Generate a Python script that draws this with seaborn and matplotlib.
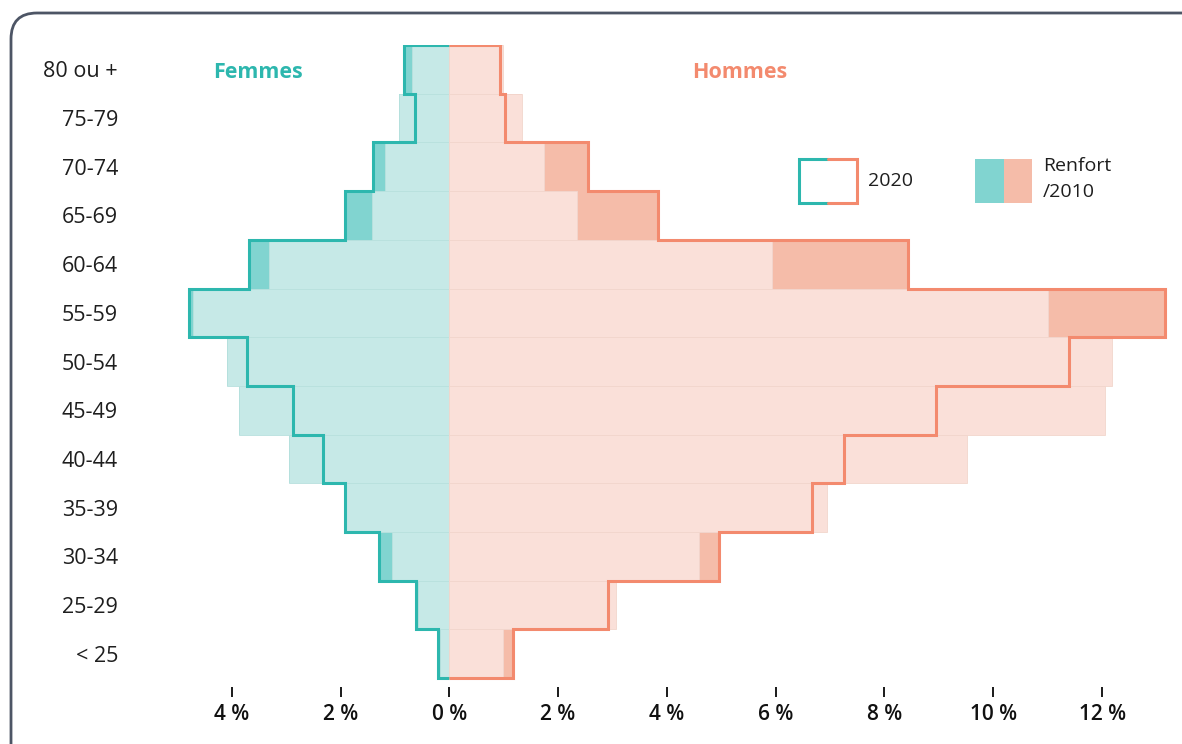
import numpy as np
import matplotlib
matplotlib.use('Agg')
import matplotlib.pyplot as plt
from matplotlib.patches import FancyBboxPatch, Rectangle
from matplotlib.ticker import FuncFormatter
import seaborn as sns

sns.set_style('white')
plt.rcParams['font.family'] = ['Open Sans', 'DejaVu Sans']

# ─── Data (% of total staff) ─────────────────────────────────────────────────
ages = ['80 ou +', '75-79', '70-74', '65-69', '60-64', '55-59', '50-54',
        '45-49', '40-44', '35-39', '30-34', '25-29', '< 25']
femmes_2010 = [0.69, 0.92, 1.18, 1.43, 3.31, 4.71, 4.08, 3.86, 2.94, 1.92, 1.06, 0.57, 0.17]
femmes_2020 = [0.83, 0.63, 1.41, 1.92, 3.69, 4.78, 3.71, 2.88, 2.32, 1.92, 1.29, 0.62, 0.20]
hommes_2010 = [0.99, 1.33, 1.74, 2.35, 5.93, 11.01, 12.19, 12.05, 9.51, 6.94, 4.59, 3.07, 0.98]
hommes_2020 = [0.93, 1.02, 2.55, 3.84, 8.44, 13.15, 11.40, 8.94, 7.26, 6.67, 4.96, 2.91, 1.18]
xticks = [-4, -2, 0, 2, 4, 6, 8, 10, 12]

TEAL = '#2DB7AE'
TEAL_DARK = '#81D4D0'
TEAL_LIGHT = '#C6E9E7'
SALMON = '#F38A6E'
SALMON_DARK = '#F5BCA9'
SALMON_LIGHT = '#FAE0D9'

W, H = 1182, 744
fig = plt.figure(figsize=(W / 100, H / 100), dpi=100)

# background layer in pixel units: rounded frame
bg = fig.add_axes([0, 0, 1, 1], zorder=0)
bg.set_xlim(0, W)
bg.set_ylim(H, 0)
bg.axis('off')
bg.add_patch(FancyBboxPatch((11, 13), 1200, 760, boxstyle='round,pad=0,rounding_size=26',
                            facecolor='white', edgecolor='#4D5565', linewidth=2))

# ─── Main pyramid ────────────────────────────────────────────────────────────
px_per_unit = 54.4
x0_px = 449.3
xmin, xmax = -5.2, 13.4
left_px = x0_px + xmin * px_per_unit
right_px = x0_px + xmax * px_per_unit
top_px, bottom_px = 45, 697
ax = fig.add_axes([left_px / W, 1 - bottom_px / H,
                   (right_px - left_px) / W, (bottom_px - top_px) / H], zorder=2)
ax.patch.set_alpha(0)

f10 = np.array(femmes_2010)
f20 = np.array(femmes_2020)
h10 = np.array(hommes_2010)
h20 = np.array(hommes_2020)

# renfort (2020 above 2010) underneath, 2010 fill on top
sns.barplot(x=-np.maximum(f10, f20), y=ages, order=ages, orient='h', width=1.0,
            color=TEAL_DARK, saturation=1, linewidth=0, ax=ax)
sns.barplot(x=np.maximum(h10, h20), y=ages, order=ages, orient='h', width=1.0,
            color=SALMON_DARK, saturation=1, linewidth=0, ax=ax)
sns.barplot(x=-f10, y=ages, order=ages, orient='h', width=1.0,
            color=TEAL_LIGHT, saturation=1, edgecolor='#B9E1DE', linewidth=0.6, ax=ax)
sns.barplot(x=h10, y=ages, order=ages, orient='h', width=1.0,
            color=SALMON_LIGHT, saturation=1, edgecolor='#F2D6CD', linewidth=0.6, ax=ax)

# 2020 stair outlines
edges = np.arange(len(ages) + 1) - 0.5
step_y = np.concatenate([[edges[0]], np.repeat(edges, 2)[1:-1], [edges[-1]]])
for vals, col in [(-f20, TEAL), (h20, SALMON)]:
    step_x = np.concatenate([[0], np.repeat(vals, 2), [0]])
    ax.plot(step_x, step_y, color=col, lw=2.2, solid_joinstyle='miter',
            solid_capstyle='butt', zorder=5)

ax.set_xlim(xmin, xmax)
ax.set_ylim(-0.5 + (bottom_px - top_px) / 48.7, -0.5)
ax.set_xticks(xticks)
ax.xaxis.set_major_formatter(FuncFormatter(lambda v, p: f'{abs(v):.0f} %'))
ax.set_xlabel('')
ax.set_ylabel('')
for s in ax.spines.values():
    s.set_visible(False)
ax.tick_params(axis='x', direction='in', length=7, width=1.4, color='#1A1A1A',
               pad=5, labelsize=15, labelcolor='#111111', bottom=True)
for lab in ax.get_xticklabels():
    lab.set_fontweight('semibold')
ax.tick_params(axis='y', length=0, pad=(left_px - 118) * 0.72, labelsize=15.5,
               labelcolor='#1E1E1E')

# ─── Labels and legend ───────────────────────────────────────────────────────
top = fig.add_axes([0, 0, 1, 1], zorder=3)
top.set_xlim(0, W)
top.set_ylim(H, 0)
top.axis('off')
top.text(258, 72, 'Femmes', color=TEAL, fontsize=15.5, fontweight='bold',
         ha='center', va='center')
top.text(740, 72, 'Hommes', color=SALMON, fontsize=15.5, fontweight='bold',
         ha='center', va='center')

top.plot([828, 799, 799, 828], [158.5, 158.5, 202.5, 202.5], color=TEAL, lw=2.2,
         solid_joinstyle='miter')
top.plot([828, 857, 857, 828], [158.5, 158.5, 202.5, 202.5], color=SALMON, lw=2.2,
         solid_joinstyle='miter')
top.text(868, 181, '2020', fontsize=14, color='#1E1E1E', ha='left', va='center')
top.add_patch(Rectangle((975, 159), 29, 44, facecolor=TEAL_DARK, edgecolor='none'))
top.add_patch(Rectangle((1004, 159), 28, 44, facecolor=SALMON_DARK, edgecolor='none'))
top.text(1043, 166, 'Renfort', fontsize=14, color='#1E1E1E', ha='left', va='center')
top.text(1043, 192, '/2010', fontsize=14, color='#1E1E1E', ha='left', va='center')

fig.savefig('out.png', dpi=100)
